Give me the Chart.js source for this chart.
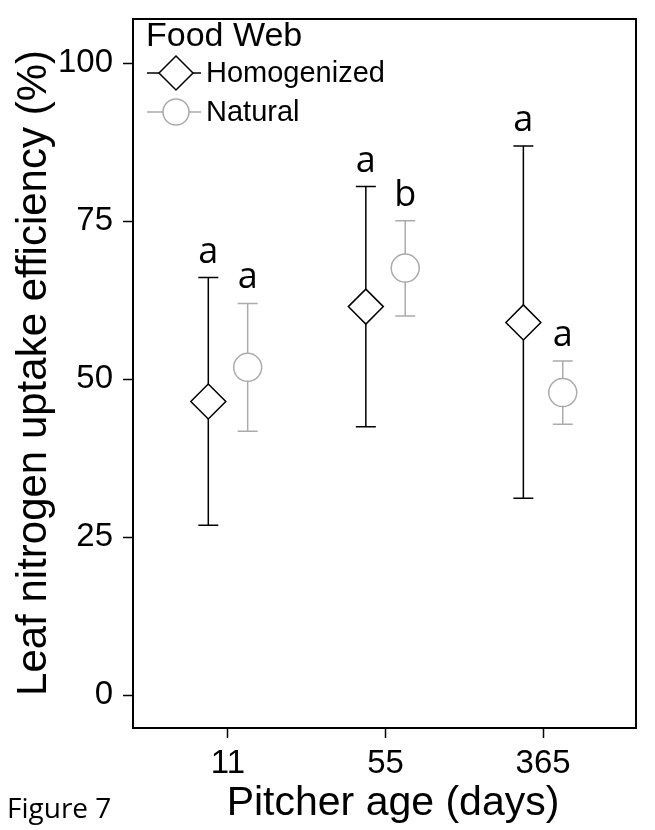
<!DOCTYPE html>
<html>
<head>
<meta charset="utf-8">
<script src="https://cdn.jsdelivr.net/npm/chart.js@4"></script>
<style>
    body { margin: 0; background: #fff; }
    canvas { display: block; }
</style>
</head>
<body>
<canvas id="nitrogenChart" width="655" height="830"></canvas>
<script>
// pitcher age categories and y ticks
const ageLabels = ['11', '55', '365'];
const yTickValues = [0, 25, 50, 75, 100];

// Homogenized food web: mean and error bar ends
const homMean = [46.5, 61.5, 59.0];
const homLow = [26.9, 42.5, 31.2];
const homHigh = [66.1, 80.5, 86.9];
const homLetters = ['a', 'a', 'a'];

// Natural food web
const natMean = [51.9, 67.6, 47.9];
const natLow = [41.8, 60.0, 42.9];
const natHigh = [62.0, 75.1, 52.9];
const natLetters = ['a', 'b', 'a'];

const DODGE = 0.125;
const GREY = '#ababab';
const SANS = '"Liberation Sans", Arial, sans-serif';

function drawDiamond(ctx, x, y, r) {
    ctx.beginPath();
    ctx.moveTo(x - r, y);
    ctx.lineTo(x, y - r);
    ctx.lineTo(x + r, y);
    ctx.lineTo(x, y + r);
    ctx.closePath();
    ctx.fillStyle = '#fff';
    ctx.fill();
    ctx.stroke();
}

function drawCircle(ctx, x, y, r) {
    ctx.beginPath();
    ctx.arc(x, y, r, 0, Math.PI * 2);
    ctx.fillStyle = '#fff';
    ctx.fill();
    ctx.stroke();
}

const errorBars = {
    id: 'errorBars',
    beforeDatasetsDraw(chart) {
        const ctx = chart.ctx;
        const xs = chart.scales.x, ys = chart.scales.y;
        const groups = [
            { low: homLow, high: homHigh, off: -DODGE, color: '#000' },
            { low: natLow, high: natHigh, off: DODGE, color: GREY }
        ];
        ctx.save();
        ctx.lineWidth = 1.5;
        groups.forEach(g => {
            ctx.strokeStyle = g.color;
            g.low.forEach((lo, i) => {
                const x = xs.getPixelForValue(i + 1 + g.off);
                const y1 = ys.getPixelForValue(lo);
                const y2 = ys.getPixelForValue(g.high[i]);
                ctx.beginPath();
                ctx.moveTo(x, y1); ctx.lineTo(x, y2);
                ctx.moveTo(x - 10, y1); ctx.lineTo(x + 10, y1);
                ctx.moveTo(x - 10, y2); ctx.lineTo(x + 10, y2);
                ctx.stroke();
            });
        });
        ctx.restore();
    },
    afterDraw(chart) {
        const ctx = chart.ctx;
        const xs = chart.scales.x, ys = chart.scales.y;
        const area = chart.chartArea;
        ctx.save();

        // plot box
        ctx.strokeStyle = '#000';
        ctx.lineWidth = 2;
        ctx.strokeRect(area.left, area.top, area.right - area.left, area.bottom - area.top);

        // significance letters
        ctx.fillStyle = '#000';
        ctx.font = '36px "Open Sans", sans-serif';
        ctx.textAlign = 'center';
        ctx.textBaseline = 'alphabetic';
        homLetters.forEach((t, i) => {
            ctx.fillText(t, xs.getPixelForValue(i + 1 - DODGE), ys.getPixelForValue(homHigh[i]) - 15);
        });
        natLetters.forEach((t, i) => {
            ctx.fillText(t, xs.getPixelForValue(i + 1 + DODGE), ys.getPixelForValue(natHigh[i]) - 15);
        });

        // legend
        ctx.textAlign = 'left';
        ctx.textBaseline = 'middle';
        ctx.font = '34px ' + SANS;
        ctx.fillText('Food Web', 146, 37);
        ctx.lineWidth = 1.5;
        ctx.strokeStyle = '#000';
        ctx.beginPath(); ctx.moveTo(147, 73); ctx.lineTo(201, 73); ctx.stroke();
        drawDiamond(ctx, 176, 73, 17);
        ctx.strokeStyle = GREY;
        ctx.beginPath(); ctx.moveTo(147, 112); ctx.lineTo(201, 112); ctx.stroke();
        drawCircle(ctx, 176, 112, 13);
        ctx.fillStyle = '#000';
        ctx.font = '29px ' + SANS;
        ctx.fillText('Homogenized', 206, 74);
        ctx.fillText('Natural', 206, 113);

        // axis titles
        ctx.font = '41px ' + SANS;
        ctx.textAlign = 'center';
        ctx.textBaseline = 'alphabetic';
        ctx.fillText('Pitcher age (days)', 393, 815);
        ctx.save();
        ctx.font = '42px ' + SANS;
        ctx.translate(46, 373);
        ctx.rotate(-Math.PI / 2);
        ctx.fillText('Leaf nitrogen uptake efficiency (%)', 0, 0);
        ctx.restore();

        ctx.font = '28px "Open Sans", sans-serif';
        ctx.textAlign = 'left';
        ctx.fillText('Figure 7', 7, 818);
        ctx.restore();
    }
};

const ctx = document.getElementById('nitrogenChart').getContext('2d');

new Chart(ctx, {
    type: 'scatter',
    data: {
        datasets: [
            {
                label: 'Homogenized',
                data: homMean.map((v, i) => ({ x: i + 1 - DODGE, y: v })),
                pointStyle: 'rectRot',
                radius: 17.5,
                borderColor: '#000',
                backgroundColor: '#fff',
                borderWidth: 1.5
            },
            {
                label: 'Natural',
                data: natMean.map((v, i) => ({ x: i + 1 + DODGE, y: v })),
                pointStyle: 'circle',
                radius: 14,
                borderColor: GREY,
                backgroundColor: '#fff',
                borderWidth: 1.5
            }
        ]
    },
    options: {
        responsive: false,
        animation: false,
        layout: { padding: { top: 10, right: 3, left: 0, bottom: 0 } },
        plugins: {
            legend: { display: false },
            tooltip: { enabled: false }
        },
        scales: {
            x: {
                type: 'linear',
                min: 0.397,
                max: 3.59,
                afterBuildTicks: s => { s.ticks = ageLabels.map((c, i) => ({ value: i + 1 })); },
                afterFit: s => { s.height = 102; s.paddingLeft = 0; s.paddingRight = 0; },
                ticks: {
                    callback: v => ageLabels[v - 1],
                    font: { family: SANS, size: 33 },
                    color: '#000',
                    padding: 6,
                    maxRotation: 0
                },
                grid: { drawOnChartArea: false, tickLength: 10, tickWidth: 1.5, tickColor: '#000' },
                border: { display: false }
            },
            y: {
                min: -5.16,
                max: 107,
                afterBuildTicks: s => { s.ticks = yTickValues.map(v => ({ value: v })); },
                afterFit: s => { s.width = 133; s.paddingTop = 0; s.paddingBottom = 0; },
                ticks: {
                    font: { family: SANS, size: 33 },
                    color: '#000',
                    padding: 10
                },
                grid: { drawOnChartArea: false, tickLength: 10, tickWidth: 1.5, tickColor: '#000' },
                border: { display: false }
            }
        }
    },
    plugins: [errorBars]
});
</script>
</body>
</html>
